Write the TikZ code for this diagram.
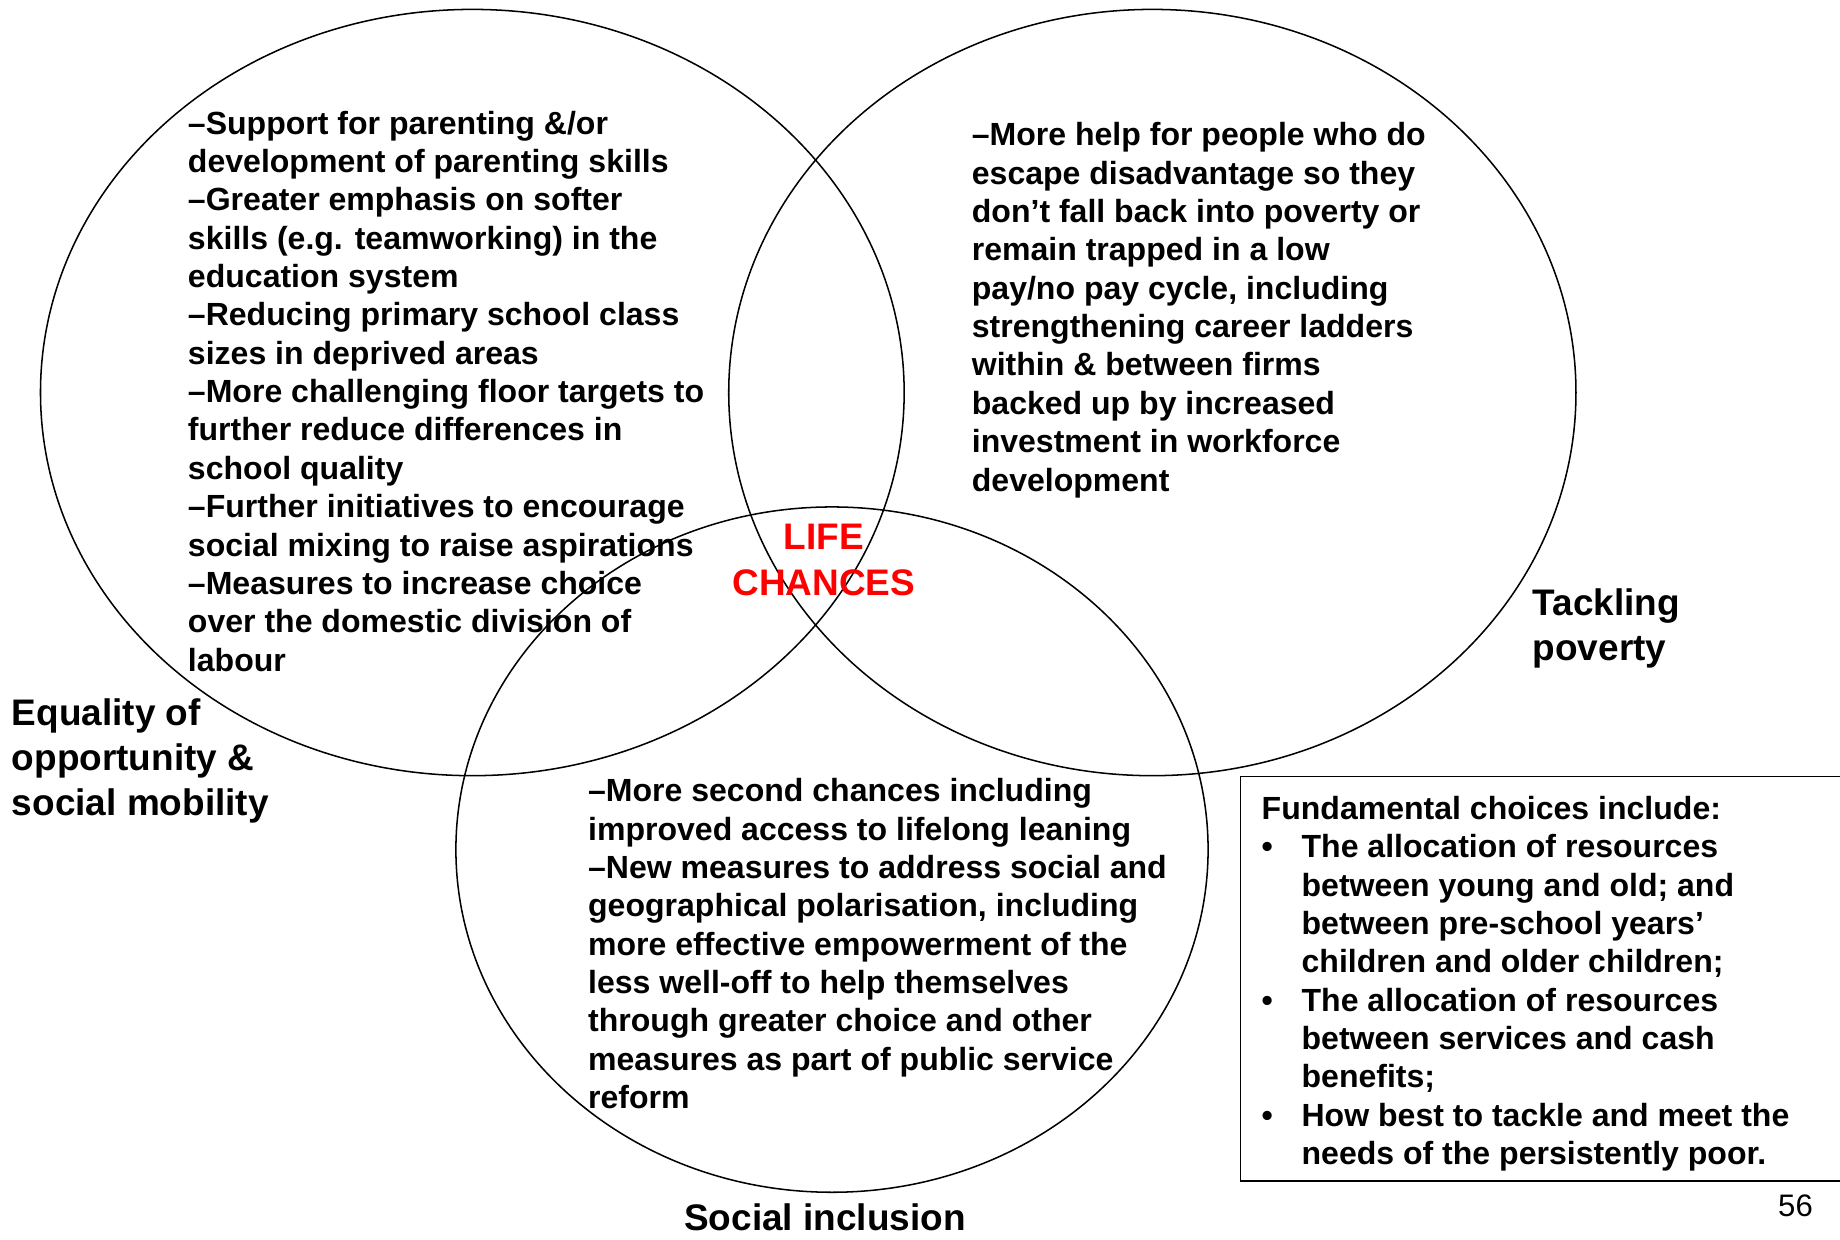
\documentclass[tikz,border=0pt]{standalone}
\usepackage{fontspec}
\setmainfont{Liberation Sans}
\usetikzlibrary{shapes.geometric}
\begin{document}
\begin{tikzpicture}[x=1pt,y=-1pt,
  venn/.style={ellipse, draw, line width=1.3pt, inner sep=0pt, outer sep=0pt},
  body/.style={anchor=north west, inner sep=0pt, align=left, font=\bfseries\fontsize{27.3}{32.7}\selectfont},
  big/.style={inner sep=0pt, font=\bfseries\fontsize{31.5}{38.5}\selectfont},
  boxline/.style={line width=1.3pt}
]
\useasboundingbox (0,0) rectangle (1568,1055.9);

% circles
\node[venn, minimum width=736pt, minimum height=653pt] (eq) at (402.5,334.5) {};
\node[venn, minimum width=722pt, minimum height=653pt] (pov) at (982,334.5) {};
\node[venn, minimum width=641pt, minimum height=584pt] (inc) at (709,724) {};

% left text
\node[body] (eqtext) at (160,91.1) {\strut –Support for parenting \&/or\\
development of parenting skills\\
–Greater emphasis on softer\\
skills (e.g. teamworking) in the\\
education system\\
–Reducing primary school class\\
sizes in deprived areas\\
–More challenging floor targets to\\
further reduce differences in\\
school quality\\
–Further initiatives to encourage\\
social mixing to raise aspirations\\
–Measures to increase choice\\
over the domestic division of\\
labour};

% right text
\node[body] (povtext) at (828,101.1) {\strut –More help for people who do\\
escape disadvantage so they\\
don’t fall back into poverty or\\
remain trapped in a low\\
pay/no pay cycle, including\\
strengthening career ladders\\
within \& between firms\\
backed up by increased\\
investment in workforce\\
development};

% bottom text
\node[body] (inctext) at (501,660.1) {\strut –More second chances including\\
improved access to lifelong leaning\\
–New measures to address social and\\
geographical polarisation, including\\
more effective empowerment of the\\
less well-off to help themselves\\
through greater choice and other\\
measures as part of public service\\
reform};

% labels
\node[big, anchor=north west, align=left] (eqlabel) at (10,591) {\strut Equality of\\opportunity \&\\social mobility};
\node[big, anchor=north west, align=left] (povlabel) at (1306,497) {\strut Tackling\\poverty};
\node[big, anchor=base] (inclabel) at (703,1049) {Social inclusion};
\node[big, anchor=north, align=center, text=red] (life) at (702,441.5) {\strut LIFE\\CHANCES};

% choices box
\node[body] (choices) at (1075,675.1) {\strut Fundamental choices include:\\
\makebox[34pt][l]{•}The allocation of resources\\
\hspace*{34pt}between young and old; and\\
\hspace*{34pt}between pre-school years’\\
\hspace*{34pt}children and older children;\\
\makebox[34pt][l]{•}The allocation of resources\\
\hspace*{34pt}between services and cash\\
\hspace*{34pt}benefits;\\
\makebox[34pt][l]{•}How best to tackle and meet the\\
\hspace*{34pt}needs of the persistently poor.};
\coordinate (boxtr) at (1568,661.9);
\coordinate (boxbr) at (1568,1006.4);
\draw[boxline] (boxtr) -| (1057.3,1006.4) -- (boxbr);

% page number
\node[inner sep=0pt, anchor=base east, font=\fontsize{26.5}{31}\selectfont] (page) at (1545,1037) {56};
\end{tikzpicture}
\end{document}
